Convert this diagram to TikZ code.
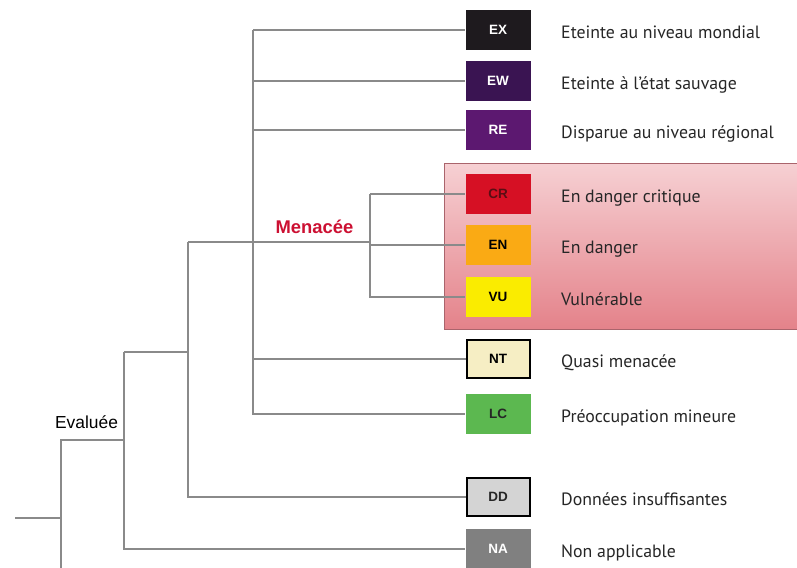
\documentclass[tikz,border=0pt]{standalone}
\usepackage{fontspec}
\setmainfont{PT Sans}
\newfontfamily\arialf{Liberation Sans}
\definecolor{treeline}{RGB}{138,138,138}
\definecolor{cEX}{RGB}{30,26,30}
\definecolor{cEW}{RGB}{58,20,82}
\definecolor{cRE}{RGB}{92,24,112}
\definecolor{cCR}{RGB}{214,16,36}
\definecolor{cCRt}{RGB}{90,14,20}
\definecolor{cEN}{RGB}{250,170,20}
\definecolor{cVU}{RGB}{250,236,0}
\definecolor{cNT}{RGB}{246,238,196}
\definecolor{cLC}{RGB}{92,184,80}
\definecolor{cDD}{RGB}{212,212,212}
\definecolor{cNA}{RGB}{128,128,128}
\definecolor{pinkTop}{RGB}{246,208,211}
\definecolor{pinkBot}{RGB}{228,130,138}
\definecolor{pinkBorder}{RGB}{170,100,108}
\definecolor{menred}{RGB}{204,16,50}
\tikzset{
  catbox/.style={minimum width=65pt, minimum height=40pt, inner sep=0pt,
    font=\arialf\bfseries\fontsize{13.5}{15}\selectfont},
  framedbox/.style={catbox, draw=black, line width=2pt, minimum width=63pt, minimum height=38pt},
  desc/.style={anchor=base west, inner sep=0pt, font=\fontsize{17.8}{20}\selectfont, text=black!85},
  branch/.style={draw=treeline, line width=1.4pt},
}
\begin{document}
\begin{tikzpicture}[x=1pt,y=-1pt]
\useasboundingbox (0,0) rectangle (797,567);
% threatened region
\node[draw=pinkBorder, line width=1pt, top color=pinkTop, bottom color=pinkBot,
  minimum width=353pt, minimum height=166pt, inner sep=0pt, anchor=north west] (menzone) at (444,163) {};
% boxes
\node[catbox, fill=cEX, text=white] (ex) at (498,30) {EX};
\node[catbox, fill=cEW, text=white] (ew) at (498,81) {EW};
\node[catbox, fill=cRE, text=white] (re) at (498,130) {RE};
\node[catbox, fill=cCR, text=cCRt] (cr) at (498,194) {CR};
\node[catbox, fill=cEN, text=black] (en) at (498,245) {EN};
\node[catbox, fill=cVU, text=black] (vu) at (498,297) {VU};
\node[framedbox, fill=cNT, text=black] (nt) at (498,359) {NT};
\node[catbox, fill=cLC, text=black!85] (lc) at (498,414) {LC};
\node[framedbox, fill=cDD, text=black!85] (dd) at (498,497) {DD};
\node[catbox, fill=cNA, text=white] (na) at (498,549) {NA};
% descriptions
\node[desc] (tex) at (561,38.5) {Eteinte au niveau mondial};
\node[desc] (tew) at (561,89.5) {Eteinte à l'état sauvage};
\node[desc] (tre) at (561,138.5) {Disparue au niveau régional};
\node[desc] (tcr) at (561,202.5) {En danger critique};
\node[desc] (ten) at (561,253.5) {En danger};
\node[desc] (tvu) at (561,305.5) {Vulnérable};
\node[desc] (tnt) at (561,367.5) {Quasi menacée};
\node[desc] (tlc) at (561,422.5) {Préoccupation mineure};
\node[desc] (tdd) at (561,505.5) {Données insuffisantes};
\node[desc] (tna) at (561,557.5) {Non applicable};
% group labels
\node[anchor=base, inner sep=0pt, font=\arialf\fontsize{17.4}{19}\selectfont] (eval) at (86.5,428) {Evaluée};
\node[anchor=base, inner sep=0pt, font=\arialf\bfseries\fontsize{18.4}{20}\selectfont, text=menred] (men) at (314.5,233) {Menacée};
% junction coordinates
\coordinate (root) at (15,518);
\coordinate (j0) at (61,518);
\coordinate (j0top) at (61,440);
\coordinate (j0bot) at (61,570);
\coordinate (j1) at (124,440);
\coordinate (j1top) at (124,352);
\coordinate (j2) at (188,352);
\coordinate (j2top) at (188,242);
\coordinate (j3) at (253,242);
\coordinate (j3top) at (253,30);
\coordinate (j4) at (370,245);
% tree
\draw[branch] (root) -- (j0);
\draw[branch] (j0bot) -- (j0top) -- (j1);
\draw[branch] (j1top) |- (na.west);
\draw[branch] (j1top) -- (j2);
\draw[branch] (j2top) |- (dd.west);
\draw[branch] (j2top) -- (j3);
\draw[branch] (j3top) |- (lc.west);
\draw[branch] (j3top) -- (ex.west);
\draw[branch] (j3 |- ew.west) -- (ew.west);
\draw[branch] (j3 |- re.west) -- (re.west);
\draw[branch] (j3 |- nt.west) -- (nt.west);
\draw[branch] (j3) -- (j3 -| j4);
\draw[branch] (j4 |- cr.west) -- (cr.west);
\draw[branch] (j4 |- cr.west) |- (vu.west);
\draw[branch] (j4 |- en.west) -- (en.west);
\end{tikzpicture}
\end{document}
